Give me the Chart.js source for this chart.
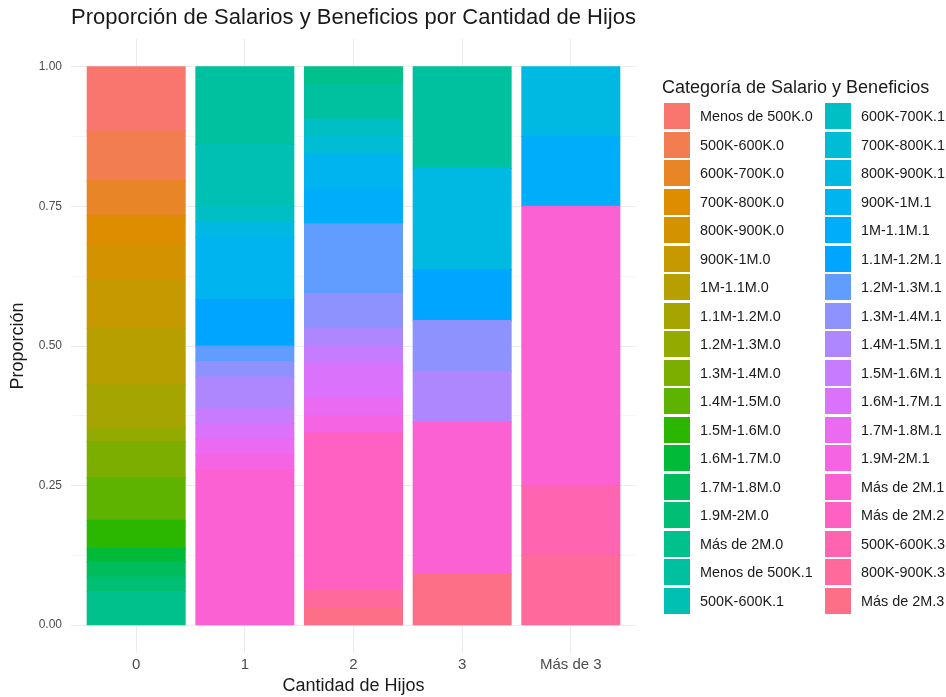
<!DOCTYPE html>
<html lang="es">
<head>
<meta charset="utf-8">
<title>Proporción de Salarios y Beneficios por Cantidad de Hijos</title>
<script src="https://cdn.jsdelivr.net/npm/chart.js@4.4.1/dist/chart.umd.min.js"></script>
<style>
  html, body { margin: 0; padding: 0; background: #ffffff; }
  #contenedor { position: relative; width: 946px; height: 697px; font-family: 'Liberation Sans', Arial, sans-serif; }
  #grafico { position: absolute; left: 0; top: 0; }
  #leyenda { position: absolute; left: 0; top: 0; width: 946px; height: 697px; pointer-events: none; }
  .ley-titulo { position: absolute; left: 662px; top: 77px; font-size: 18px; line-height: 20px; color: #1a1a1a; white-space: nowrap; }
  .ley-caja { position: absolute; width: 26px; height: 26px; }
  .ley-texto { position: absolute; font-size: 14.4px; line-height: 26px; height: 26px; color: #1a1a1a; white-space: nowrap; }
</style>
</head>
<body>
<div id="contenedor">
  <canvas id="grafico" width="946" height="697"></canvas>
  <div id="leyenda"></div>
</div>
<script>
//-----------------------------------------------------------------------------------------------
// Datos
const cantidadHijos = ['0', '1', '2', '3', 'Más de 3'];

// niveles del factor, en el orden de la leyenda (el primero queda arriba en cada barra)
const categorias = [
    'Menos de 500K.0', '500K-600K.0', '600K-700K.0', '700K-800K.0', '800K-900K.0', '900K-1M.0',
    '1M-1.1M.0', '1.1M-1.2M.0', '1.2M-1.3M.0', '1.3M-1.4M.0', '1.4M-1.5M.0', '1.5M-1.6M.0',
    '1.6M-1.7M.0', '1.7M-1.8M.0', '1.9M-2M.0', 'Más de 2M.0', 'Menos de 500K.1', '500K-600K.1',
    '600K-700K.1', '700K-800K.1', '800K-900K.1', '900K-1M.1', '1M-1.1M.1', '1.1M-1.2M.1',
    '1.2M-1.3M.1', '1.3M-1.4M.1', '1.4M-1.5M.1', '1.5M-1.6M.1', '1.6M-1.7M.1', '1.7M-1.8M.1',
    '1.9M-2M.1', 'Más de 2M.1', 'Más de 2M.2', '500K-600K.3', '800K-900K.3', 'Más de 2M.3'
];

// Para cada barra: qué niveles aparecen (índices en categorias) y su peso relativo
const nivelesHijos0 = [0, 1, 2, 3, 4, 5, 6, 7, 8, 9, 10, 11, 12, 13, 14, 15];
const pesosHijos0   = [11.5, 8.9, 6.3, 5.1, 6.4, 8.7, 10.1, 7.8, 2.4, 6.5, 7.6, 5.1, 2.4, 2.7, 2.6, 6.0];

const nivelesHijos1 = [16, 17, 18, 20, 21, 23, 24, 25, 26, 27, 28, 29, 30, 31];
const pesosHijos1   = [5, 4, 1, 1, 4, 3, 1, 1, 2, 1, 1, 1, 1, 10];

const nivelesHijos2 = [15, 16, 18, 19, 21, 22, 24, 25, 26, 27, 28, 29, 30, 32, 34, 35];
const pesosHijos2   = [1, 2, 1, 1, 2, 2, 4, 2, 1, 1, 2, 1, 1, 9, 1, 1];

const nivelesHijos3 = [16, 20, 23, 25, 26, 31, 35];
const pesosHijos3   = [2, 2, 1, 1, 1, 3, 1];

const nivelesMas3 = [20, 22, 31, 33, 34];
const pesosMas3   = [1, 1, 4, 1, 1];

const nivelesPorBarra = [nivelesHijos0, nivelesHijos1, nivelesHijos2, nivelesHijos3, nivelesMas3];
const pesosPorBarra = [pesosHijos0, pesosHijos1, pesosHijos2, pesosHijos3, pesosMas3];

const ticksY = [0, 0.25, 0.5, 0.75, 1];
//-----------------------------------------------------------------------------------------------
// Paleta tipo ggplot (hue_pal): HCL con l = 65, c = 100
function hclAHex(h, c, l) {
    const hr = h * Math.PI / 180;
    const U = c * Math.cos(hr);
    const V = c * Math.sin(hr);
    const Xn = 95.047, Yn = 100.0, Zn = 108.883;
    const un = 4 * Xn / (Xn + 15 * Yn + 3 * Zn);
    const vn = 9 * Yn / (Xn + 15 * Yn + 3 * Zn);
    const Y = l > 8 ? Yn * Math.pow((l + 16) / 116, 3) : Yn * l / 903.3;
    const u = U / (13 * l) + un;
    const v = V / (13 * l) + vn;
    const X = Y * 9 * u / (4 * v);
    const Z = Y * (12 - 3 * u - 20 * v) / (4 * v);
    const x = X / 100, y = Y / 100, z = Z / 100;
    const lin = [
        3.240479 * x - 1.537150 * y - 0.498535 * z,
        -0.969256 * x + 1.875992 * y + 0.041556 * z,
        0.055648 * x - 0.204043 * y + 1.057311 * z
    ];
    return '#' + lin.map(function (c1) {
        let g = c1 <= 0.0031308 ? 12.92 * c1 : 1.055 * Math.pow(c1, 1 / 2.4) - 0.055;
        g = Math.max(0, Math.min(1, g));
        return Math.round(g * 255).toString(16).padStart(2, '0');
    }).join('');
}

const colores = categorias.map(function (_, i) {
    return hclAHex(15 + i * 360 / categorias.length, 100, 65);
});
//-----------------------------------------------------------------------------------------------
// Un dataset por nivel; cada barra se normaliza a 1 (position = "fill")
const totales = pesosPorBarra.map(p => p.reduce((a, b) => a + b, 0));

const datasets = categorias.map(function (nombre, k) {
    const puntos = [];
    for (let b = 0; b < nivelesPorBarra.length; b++) {
        const pos = nivelesPorBarra[b].indexOf(k);
        if (pos >= 0) {
            puntos.push({ x: b, y: pesosPorBarra[b][pos] / totales[b] });
        }
    }
    return {
        label: nombre,
        data: puntos,
        backgroundColor: colores[k],
        borderWidth: 0,
        inflateAmount: 0.6,
        barPercentage: 0.9,
        categoryPercentage: 1.0
    };
});
// Chart.js apila desde abajo: invertimos para que el primer nivel quede arriba
datasets.reverse();

Chart.defaults.font.family = "'Liberation Sans', Arial, sans-serif";

const ctx = document.getElementById('grafico').getContext('2d');
const miGrafico = new Chart(ctx, {
    type: 'bar',
    data: { datasets: datasets },
    options: {
        responsive: false,
        animation: false,
        layout: { padding: { top: 0, right: 310, bottom: 0, left: 0 } },
        scales: {
            x: {
                type: 'linear',
                stacked: true,
                offset: false,
                min: -0.6,
                max: 4.6,
                afterBuildTicks: function (scale) {
                    scale.ticks = cantidadHijos.map((_, i) => ({ value: i }));
                },
                afterFit: function (scale) { scale.height = 44; },
                grid: { color: '#ebebeb', lineWidth: 1, drawTicks: false, offset: false },
                border: { display: false },
                ticks: {
                    padding: 3,
                    color: '#4d4d4d',
                    font: { size: 15 },
                    callback: function (value) { return cantidadHijos[value]; }
                },
                title: {
                    display: true,
                    text: 'Cantidad de Hijos',
                    color: '#1a1a1a',
                    font: { size: 18 },
                    padding: { top: 0, bottom: 0 }
                }
            },
            y: {
                stacked: true,
                min: -0.05,
                max: 1.05,
                afterBuildTicks: function (scale) {
                    const t = [];
                    for (let i = 0; i < ticksY.length; i++) {
                        t.push({ value: ticksY[i] });
                        if (i < ticksY.length - 1) t.push({ value: (ticksY[i] + ticksY[i + 1]) / 2 });
                    }
                    scale.ticks = t;
                },
                afterFit: function (scale) { scale.width = 71; },
                grid: {
                    drawTicks: false,
                    lineWidth: 1,
                    color: function (c) {
                        return ticksY.includes(c.tick.value) ? '#ebebeb' : '#f5f5f5';
                    }
                },
                border: { display: false },
                ticks: {
                    padding: 9,
                    color: '#4d4d4d',
                    font: { size: 12 },
                    autoSkip: false,
                    callback: function (value) {
                        return ticksY.includes(value) ? value.toFixed(2) : '';
                    }
                },
                title: {
                    display: true,
                    text: 'Proporción',
                    color: '#1a1a1a',
                    font: { size: 18 },
                    padding: { top: 7, bottom: 0 }
                }
            }
        },
        plugins: {
            legend: { display: false },
            tooltip: { enabled: false },
            title: {
                display: true,
                fullSize: false,
                text: 'Proporción de Salarios y Beneficios por Cantidad de Hijos',
                color: '#1a1a1a',
                font: { size: 22, weight: 'normal' },
                padding: { top: 5, bottom: 7.6 }
            }
        }
    }
});
//-----------------------------------------------------------------------------------------------
// Leyenda en dos columnas, como la de ggplot
function mostrarLeyenda() {
    const leyenda = document.getElementById('leyenda');
    leyenda.innerHTML = '';

    const titulo = document.createElement('div');
    titulo.className = 'ley-titulo';
    titulo.textContent = 'Categoría de Salario y Beneficios';
    leyenda.appendChild(titulo);

    const porColumna = Math.ceil(categorias.length / 2);
    for (let k = 0; k < categorias.length; k++) {
        const col = Math.floor(k / porColumna);
        const fila = k % porColumna;
        const top = 103 + fila * 28.5;
        const izq = col === 0 ? 664 : 825;

        const caja = document.createElement('div');
        caja.className = 'ley-caja';
        caja.style.left = izq + 'px';
        caja.style.top = top + 'px';
        caja.style.background = colores[k];
        leyenda.appendChild(caja);

        const texto = document.createElement('div');
        texto.className = 'ley-texto';
        texto.style.left = (izq + 36) + 'px';
        texto.style.top = top + 'px';
        texto.textContent = categorias[k];
        leyenda.appendChild(texto);
    }
}
mostrarLeyenda();
</script>
</body>
</html>
